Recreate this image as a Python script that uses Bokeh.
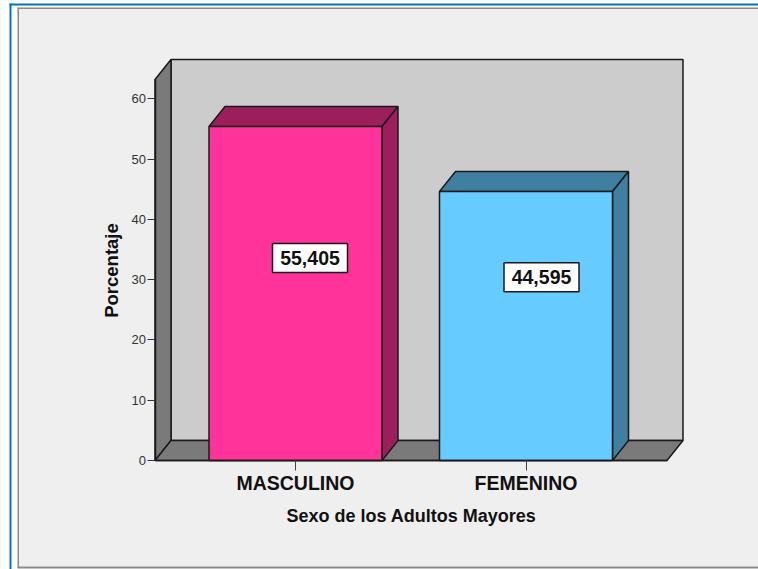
from bokeh.plotting import figure
from bokeh.models import Range1d, FixedTicker, BoxAnnotation, Label
from bokeh.core.properties import value
from bokeh.embed import file_html
from bokeh.resources import INLINE
import math

categories = ["MASCULINO", "FEMENINO"]
percentages = [55.405, 44.595]
value_texts = ["55,405", "44,595"]
y_ticks = [0, 10, 20, 30, 40, 50, 60]
front_colors = ["#FF3399", "#66CCFF"]
dark_colors = ["#9C1F5C", "#3F7FA0"]

FONT = "Liberation Sans"
W, H = 758, 569
PX_X = 230.5
PX_Y = 6.03
BASE_PX = 460
FIRST_PX = 295
DX = 16 / PX_X
DY = 20 / PX_Y
HALF = 86.5 / PX_X
TOP = 401 / PX_Y - DY
X0 = 1 - 140.5 / PX_X
X1 = 2 + 141 / PX_X

p = figure(width=W, height=H, output_backend="svg", toolbar_location=None,
           x_range=Range1d(1 - FIRST_PX / PX_X, 1 + (W - FIRST_PX) / PX_X),
           y_range=Range1d((BASE_PX - H) / PX_Y, BASE_PX / PX_Y),
           min_border_left=0, min_border_right=0, min_border_top=0, min_border_bottom=0,
           border_fill_color="#EFEFEF", background_fill_color="#EFEFEF",
           outline_line_color=None)
p.styles = {"position": "absolute", "left": "0px", "top": "0px"}
p.grid.visible = False

# picture frame around the chart: (left, right, top, bottom, colour)
frame_strips = [
    (0, 18, 0, H, "white"),
    (0, W, 0, 8, "white"),
    (0, W, 566, H, "white"),
    (9, 11, 3, H, "#0072C6"),
    (9, W, 3, 5, "#0072C6"),
    (17, 18.5, 7, 567, "#8A8A8A"),
    (17, W, 7, 8.5, "#8A8A8A"),
    (17, W, 566, 568, "#8A8A8A"),
]
for l, r, t, b, c in frame_strips:
    p.add_layout(BoxAnnotation(left=l, right=r, top=t, bottom=b,
                               left_units="canvas", right_units="canvas",
                               top_units="canvas", bottom_units="canvas",
                               fill_color=c, fill_alpha=1, line_color=None,
                               level="underlay"))

edge = dict(line_color="#1A1A1A", line_width=1.5)
# walls
p.patch([X0 + DX, X1 + DX, X1 + DX, X0 + DX], [DY, DY, TOP + DY, TOP + DY], fill_color="#CCCCCC", **edge)
p.patch([X0, X0 + DX, X0 + DX, X0], [0, DY, TOP + DY, TOP], fill_color="#7A7A7A", **edge)
p.patch([X0, X1, X1 + DX, X0 + DX], [0, 0, DY, DY], fill_color="#7A7A7A", **edge)

# bars
for i, v in enumerate(percentages):
    c = i + 1
    a, b = c - HALF, c + HALF
    p.patch([a, a + DX, b + DX, b], [v, v + DY, v + DY, v], fill_color=dark_colors[i], **edge)
    p.patch([b, b + DX, b + DX, b], [0, DY, v + DY, v], fill_color=dark_colors[i], **edge)
    p.patch([a, b, b, a], [0, 0, v, v], fill_color=front_colors[i], **edge)

# value boxes
label_x = [1 + 14.5 / PX_X, 2 + 15.5 / PX_X]
label_y = [33.6, 30.4]
p.rect(label_x, label_y, width=75, height=29, width_units="screen", height_units="screen",
       fill_color="white", line_color="#1A1A1A", line_width=1.5)
p.text(label_x, label_y, text=value_texts, text_align="center", text_baseline="middle",
       text_font=value(FONT), text_font_size="19.5px", text_font_style="bold", text_color="#111111")

xa = p.xaxis[0]
xa.fixed_location = 0
xa.ticker = FixedTicker(ticks=[1, 2])
xa.major_label_overrides = {i + 1: c for i, c in enumerate(categories)}
xa.major_label_text_font = FONT
xa.major_label_text_font_size = "19.5px"
xa.major_label_text_font_style = "bold"
xa.major_label_text_color = "#111111"
xa.major_tick_out = 10
xa.major_tick_in = 0
xa.minor_tick_out = 0
xa.minor_tick_in = 0
xa.major_label_standoff = 1
xa.bounds = (X0, X1)
xa.axis_line_color = "#1A1A1A"
xa.axis_line_width = 1.5
xa.major_tick_line_color = "#444444"

ya = p.yaxis[0]
ya.fixed_location = X0
ya.ticker = FixedTicker(ticks=y_ticks)
ya.major_label_text_font = FONT
ya.major_label_text_font_size = "13px"
ya.major_label_text_color = "#333333"
ya.major_tick_out = 8
ya.major_tick_in = 0
ya.minor_tick_out = 0
ya.minor_tick_in = 0
ya.major_label_standoff = 1
ya.bounds = (0, TOP)
ya.axis_line_color = "#1A1A1A"
ya.axis_line_width = 1.5
ya.major_tick_line_color = "#333333"

p.add_layout(Label(x=411, y=515, x_units="canvas", y_units="canvas",
                   text="Sexo de los Adultos Mayores", text_font=FONT,
                   text_font_size="18px", text_font_style="bold", text_color="#111111",
                   text_align="center", text_baseline="middle"))
p.add_layout(Label(x=111, y=270, x_units="canvas", y_units="canvas",
                   text="Porcentaje", text_font=FONT, angle=math.pi / 2,
                   text_font_size="18.5px", text_font_style="bold", text_color="#111111",
                   text_align="center", text_baseline="middle"))

open("out.html", "w").write(file_html(p, INLINE))
